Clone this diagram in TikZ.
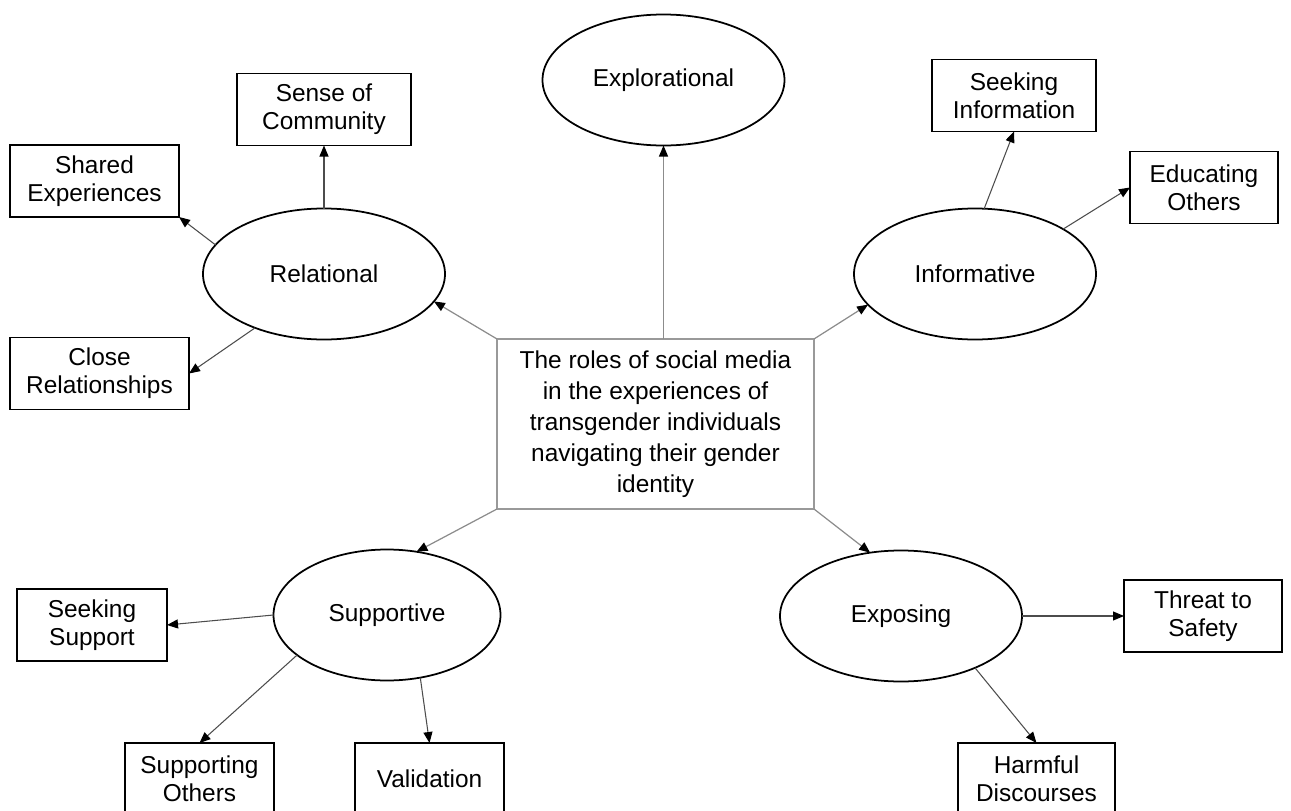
\documentclass[tikz,border=0pt]{standalone}
\usepackage{fontspec}
\setmainfont{Liberation Sans}
\usetikzlibrary{arrows.meta, positioning, shapes.geometric}

\begin{document}
\begin{tikzpicture}[
    on grid,
    role/.style={ellipse, draw=black, line width=1pt, minimum width=4.84cm, minimum height=2.62cm, inner sep=0pt, outer sep=0pt, align=center, font=\fontsize{13.9}{16}\selectfont},
    theme/.style={rectangle, draw=black, line width=0.9pt, minimum height=1.44cm, inner sep=2pt, outer sep=0pt, align=center, font=\fontsize{13.9}{16}\selectfont},
    core/.style={rectangle, draw=gray!80, line width=0.9pt, minimum width=6.34cm, minimum height=3.4cm, outer sep=0pt, align=center, font=\fontsize{13.9}{17.6}\selectfont},
    link/.style={-{Triangle[length=2.2mm, width=1.8mm, black]}, draw=gray!90, line width=0.7pt},
    arrow/.style={-{Triangle[length=2.2mm, width=1.8mm, black]}, draw=black!70, line width=0.6pt},
]
\useasboundingbox (0,0) rectangle (25.82,-16.22);

% Nodes
\node[core] (roles) at (13.11,-8.48) {The roles of social media\\in the experiences of\\transgender individuals\\navigating their gender\\identity};
\node[role, above right=6.88cm and 0.16cm of roles] (expl) {Explorational};
\node[role, above left=3cm and 6.63cm of roles] (rel) {Relational};
\node[role, above right=3cm and 6.39cm of roles] (info) {Informative};
\node[role, minimum width=4.54cm, below left=3.82cm and 5.37cm of roles] (supp) {Supportive};
\node[role, below right=3.84cm and 4.91cm of roles] (expo) {Exposing};

% Relational themes
\node[theme, minimum width=3.48cm, above=3.29cm of rel] (community) {Sense of\\Community};
\node[theme, minimum width=3.38cm, above left=1.86cm and 4.59cm of rel] (shared) {Shared\\Experiences};
\node[theme, minimum width=3.58cm, below left=1.99cm and 4.49cm of rel] (close) {Close\\Relationships};

% Informative themes
\node[theme, minimum width=3.28cm, above right=3.57cm and 0.78cm of info] (seekinfo) {Seeking\\Information};
\node[theme, minimum width=2.96cm, above right=1.73cm and 4.58cm of info] (educate) {Educating\\Others};

% Supportive themes
\node[theme, minimum width=3cm, below left=0.2cm and 5.9cm of supp] (seeksupp) {Seeking\\Support};
\node[theme, minimum width=2.98cm, below left=3.28cm and 3.75cm of supp] (supporting) {Supporting\\Others};
\node[theme, minimum width=2.98cm, below right=3.28cm and 0.85cm of supp] (valid) {Validation};

% Exposing themes
\node[theme, minimum width=3.16cm, right=6.04cm of expo] (threat) {Threat to\\Safety};
\node[theme, minimum width=3.14cm, below right=3.26cm and 2.71cm of expo] (harmful) {Harmful\\Discourses};

% Arrows from the centre
\draw[link] (roles.north -| expl.south) -- (expl.south);
\draw[link] (roles.north west) -- (rel.-14);
\draw[link] (roles.north east) -- (info.196);
\draw[link] (roles.south west) -- (supp.65);
\draw[link] (roles.south east) -- (expo.116);

% Arrows to themes
\draw[arrow] (rel.north) -- (community.south);
\draw[arrow] (rel.165) -- (shared.south east);
\draw[arrow] (rel.218) -- (close.east);
\draw[arrow] (info.82) -- (seekinfo.south);
\draw[arrow] (info.27) -- (educate.west);
\draw[arrow] (supp.west) -- (seeksupp.east);
\draw[arrow] (supp.204) -- (supporting.north);
\draw[arrow] (supp.-62) -- (valid.north);
\draw[arrow] (expo.east) -- (threat.west);
\draw[arrow] (expo.-35) -- (harmful.north);

\end{tikzpicture}
\end{document}
